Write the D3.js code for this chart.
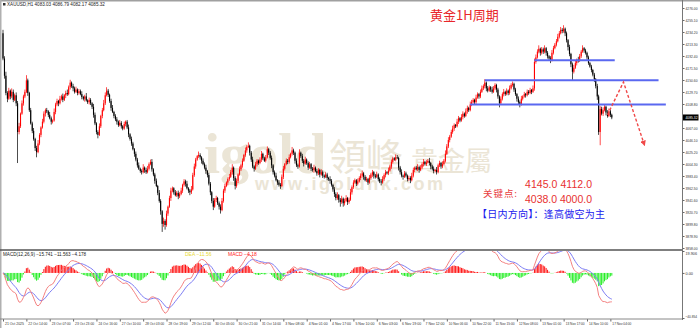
<!DOCTYPE html>
<html><head><meta charset="utf-8">
<script src="https://cdn.jsdelivr.net/npm/d3@7/dist/d3.min.js"></script>
<style>html,body{margin:0;padding:0;background:#fff;overflow:hidden}svg{display:block}</style>
</head><body><svg id="c" width="700" height="328"></svg>
<script>
// ---------- DATA ----------
const firstOpen = 4232;
const closes = [
4188,4158,4128,4118,4132,4122,4130,4116,4124,4110,
4060,4070,4092,4110,4122,4130,4150,4128,4098,4075,
4062,4048,4032,4025,4040,4055,4068,4078,4092,4098,
4096,4090,4084,4078,4080,4095,4108,4114,4110,4118,
4122,4116,4124,4128,4126,4138,4146,4140,4136,4130,
4134,4128,4131,4126,4121,4118,4122,4115,4112,4116,
4110,4104,4090,4075,4060,4055,4070,4088,4098,4110,
4124,4132,4125,4114,4102,4095,4088,4082,4078,4072,
4076,4070,4066,4074,4078,4068,4056,4048,4040,4030,
4022,4012,4002,3996,3992,3990,3998,3994,3990,3996,
4004,4008,3995,3986,3975,3966,3954,3940,3922,3900,
3905,3898,3918,3930,3945,3958,3962,3955,3950,3954,
3948,3952,3958,3968,3974,3970,3962,3958,3955,3960,
3985,4000,4012,4018,4020,4016,4010,4004,3998,3992,
3985,3970,3955,3940,3930,3942,3945,3936,3930,3924,
3940,3958,3966,3972,3978,3982,3990,3998,3980,3966,
3975,3986,3995,4002,4010,4020,4028,4034,4036,4024,
4012,4000,3996,4004,4010,4006,4012,4022,4014,4010,
4016,4030,4024,4015,4002,3990,3984,3976,3972,3968,
3966,3982,3996,4004,4010,4008,4016,4022,4028,4024,
4010,4002,4000,4024,4018,4010,4005,4012,4006,3998,
4004,3996,3994,3998,3992,3988,3994,3986,3990,3984,
3982,3986,3980,3978,3975,3968,3960,3952,3945,3950,
3942,3938,3944,3936,3940,3945,3938,3942,3955,3964,
3972,3976,3970,3974,3980,3984,3988,3982,3976,3978,
3972,3980,3986,3990,3984,3982,3986,3978,3974,3972,
3978,3985,3990,3988,3993,4000,4008,4014,4012,4016,
4015,3998,3990,3984,3982,3988,3984,3978,3980,3976,
3984,3994,3998,3995,3999,3994,3998,4004,4008,4004,
4007,4010,4006,4000,3996,3992,3994,3990,4002,4006,
4000,4004,4010,4022,4035,4046,4052,4060,4066,4072,
4070,4078,4084,4080,4086,4092,4088,4096,4102,4098,
4108,4112,4116,4112,4120,4126,4122,4130,4136,4140,
4146,4136,4132,4138,4134,4130,4136,4142,4134,4122,
4110,4118,4126,4130,4126,4132,4128,4136,4142,4144,
4134,4126,4118,4112,4108,4118,4122,4126,4124,4130,
4128,4133,4130,4136,4182,4190,4200,4205,4198,4204,
4200,4206,4198,4192,4188,4185,4198,4206,4212,4218,
4226,4232,4238,4236,4240,4232,4220,4208,4196,4178,
4165,4172,4180,4186,4184,4192,4200,4206,4202,4198,
4190,4180,4174,4168,4160,4152,4140,4122,4060,4100,
4092,4098,4104,4094,4088,4096,4090,4085.32
];
const wickUp = [
6,4,7,3,5,2,6,4,3,5, 4,6,2,5,3,4,9,3,2,4, 3,5,2,4,6,3,2,5,4,3, 4,2,5,3,2,6,3,4,2,5,
3,5,2,4,6,3,5,2,4,3, 5,2,4,3,5,2,3,6,2,4, 3,2,5,4,2,3,5,2,4,6, 5,6,3,2,4,5,2,3,4,2,
5,3,2,4,2,3,5,2,4,3, 2,4,3,5,2,3,6,2,4,5, 3,4,5,2,3,4,2,5,3,2, 6,3,5,2,4,5,3,2,4,3,
4,3,5,2,4,3,5,2,3,6, 4,5,3,2,6,3,2,4,3,5, 2,4,3,2,5,3,4,2,3,4, 5,3,4,2,3,5,4,6,2,3,
4,2,5,3,4,2,5,3,6,2, 3,5,2,4,3,2,4,5,2,3, 4,5,2,3,4,2,3,5,2,4, 3,4,5,2,4,3,5,2,6,3,
2,4,3,6,2,4,3,5,2,3, 4,2,3,5,2,4,3,2,5,3, 2,4,3,2,5,3,2,4,3,5, 2,3,5,2,4,5,2,4,6,3,
4,3,2,5,3,4,5,2,3,4, 2,5,3,4,2,3,5,2,3,4, 5,3,4,2,5,3,4,3,2,5, 4,2,3,5,2,4,3,2,4,3,
5,4,2,3,5,2,4,3,5,2, 4,3,5,2,3,4,2,5,3,4, 2,5,3,6,4,5,3,4,5,3, 2,5,4,2,5,4,2,5,4,2,
5,4,3,2,5,3,2,4,5,3, 6,2,4,3,2,5,4,3,2,3, 2,4,3,5,2,4,2,5,3,4, 2,3,2,4,3,5,2,4,2,4,
3,4,2,5,6,5,4,6,2,4, 3,5,2,3,2,4,5,4,3,4, 5,4,5,3,6,2,3,2,4,2, 3,5,4,2,5,4,3,5,2,3,
2,3,2,3,2,3,2,4,3,5, 4,5,3,2,4,5,3,2
];
const wickDn = [
3,5,4,6,2,5,3,4,2,5, 54,4,3,2,4,3,2,5,3,2, 4,3,5,9,2,3,4,2,3,5, 3,4,2,5,3,2,4,3,5,2,
3,4,2,5,3,2,4,3,5,3, 2,4,3,2,4,3,5,2,3,4, 3,4,5,3,4,6,2,3,4,2, 3,2,4,3,5,2,4,3,5,3,
2,4,3,2,4,3,5,3,4,2, 5,3,4,2,3,4,2,5,3,2, 3,2,4,3,5,2,4,3,6,14, 5,8,3,4,2,5,3,4,2,3,
5,3,2,4,3,5,2,4,5,3, 2,3,4,2,3,4,5,2,3,5, 4,3,5,4,6,2,4,3,5,6, 2,3,4,2,5,3,2,4,5,6,
3,4,2,3,4,2,3,4,2,5, 4,3,5,2,4,3,2,4,3,2, 3,2,4,3,5,4,3,2,4,3, 5,2,4,3,2,4,3,2,3,4,
5,3,4,2,3,4,5,2,3,4, 2,4,3,5,2,4,3,5,2,4, 3,2,4,3,5,3,4,5,4,3, 5,8,3,6,4,2,5,3,2,4,
3,2,4,3,2,4,3,5,2,3, 4,2,3,4,5,3,2,4,3,5, 2,3,4,2,3,2,4,3,2,3, 2,5,4,3,5,2,3,4,3,5,
2,3,4,2,3,5,2,3,4,2, 3,2,4,5,3,4,2,4,2,3, 4,3,2,3,2,3,4,2,3,4, 3,2,4,3,2,4,3,2,4,3,
2,3,2,4,3,2,4,3,2,3, 4,5,3,2,4,3,2,3,5,4, 7,2,3,4,3,2,4,3,2,3, 4,3,5,4,5,2,3,2,4,2,
3,2,4,2,4,3,2,3,5,3, 4,3,5,4,3,5,2,3,2,3, 2,3,2,4,3,5,4,6,4,5, 15,3,2,4,3,2,3,2,4,3,
4,3,2,4,3,5,4,6,5,23, 3,4,2,5,3,2,4,3
];
const priceTicks = [3858.00,3878.90,3899.80,3920.70,3941.60,3962.50,3983.40,4004.30,4025.20,4046.10,
  4067.00,4087.90,4108.80,4129.70,4150.60,4171.50,4192.40,4213.30,4234.20,4255.10,4276.00];
const timeLabels = ["21 Oct 2025","22 Oct 14:00","23 Oct 07:00","23 Oct 23:00","24 Oct 16:00","27 Oct 10:00",
  "28 Oct 03:00","28 Oct 19:00","29 Oct 12:00","30 Oct 05:00","30 Oct 21:00","31 Oct 14:00","3 Nov 08:00",
  "4 Nov 01:00","4 Nov 17:00","5 Nov 10:00","6 Nov 03:00","6 Nov 19:00","7 Nov 12:00","10 Nov 06:00",
  "10 Nov 22:00","11 Nov 15:00","12 Nov 08:00","13 Nov 01:00","13 Nov 17:00","14 Nov 10:00","17 Nov 04:00"];
const timeLabelBars = timeLabels.map((d,k)=>k*16);
const macdTicks = [19.906, 0, -40.854];
const macdReadout = [-15.741, -11.563, -4.178];   // DIF, DEA, MACD shown in the header
const levelLines = [ {price:4185, from:364, to:419}, {price:4150, from:330, to:449}, {price:4108, from:320, to:454} ];
const projection = [ {bar:414, price:4090}, {bar:425, price:4147}, {bar:439, price:4040} ];
const keyPoints = ["4145.0 4112.0", "4038.0 4000.0"];

// ---------- SCALES ----------
const svg = d3.select("#c");
const xS = d3.scaleLinear().domain([0,465]).range([3,681.9]);
const yP = d3.scaleLinear().domain([3858,4276]).range([248,8]);
const yM = d3.scaleLinear().domain([-40.854,19.906]).range([318,251]);
const tinyFont = "Liberation Sans, Arial, sans-serif";

const defs = svg.append("defs");
defs.append("clipPath").attr("id","cm").append("rect").attr("x",2).attr("y",2).attr("width",680).attr("height",247);
defs.append("clipPath").attr("id","cd").append("rect").attr("x",2).attr("y",251).attr("width",680).attr("height",67);
defs.append("marker").attr("id","arr").attr("viewBox","0 0 6 6").attr("refX",3).attr("refY",3)
  .attr("markerWidth",4).attr("markerHeight",4).attr("orient","auto")
  .append("path").attr("d","M0,0L6,3L0,6Z").attr("fill","#f04848");

// frame
svg.append("rect").attr("x",0).attr("y",0).attr("width",700).attr("height",1.5).attr("fill","#a0a0a0");
svg.append("rect").attr("x",0).attr("y",0).attr("width",1.5).attr("height",328).attr("fill","#b0b0b0");

// watermark
const wm = svg.append("g").attr("fill","#ebe5d6");
wm.append("text").attr("x",204).attr("y",173).attr("font-family","Liberation Serif, serif").attr("font-weight","bold")
  .attr("font-size",58).text("igold");
wm.append("text").attr("x",329).attr("y",171).attr("font-family","Noto Sans CJK TC").attr("font-size",37).text("領峰");
wm.append("text").attr("x",411).attr("y",171).attr("font-family","Noto Sans CJK TC").attr("font-size",27).text("貴金屬");
wm.append("text").attr("x",255).attr("y",190).attr("font-family","Liberation Sans, sans-serif").attr("font-weight","bold")
  .attr("font-size",18).attr("textLength",188).attr("lengthAdjust","spacing").text("www.igoldhk.com");

// candles
const bars = closes.map((c,i)=>{
  const o = i===0 ? firstOpen : closes[i-1];
  return {i, o, c, h: Math.max(o,c)+wickUp[i], l: Math.min(o,c)-wickDn[i]};
});
const cg = svg.append("g").attr("clip-path","url(#cm)");
cg.selectAll(".wk").data(bars).join("rect")
  .attr("x",d=>xS(d.i)-0.35).attr("width",0.7)
  .attr("y",d=>yP(d.h)).attr("height",d=>Math.max(0.5,yP(d.l)-yP(d.h)))
  .attr("fill",d=>d.c>=d.o?"#ff0000":"#000");
cg.selectAll(".bd").data(bars).join("rect")
  .attr("x",d=>xS(d.i)-0.55).attr("width",1.1)
  .attr("y",d=>yP(Math.max(d.o,d.c))).attr("height",d=>Math.max(0.6,Math.abs(yP(d.o)-yP(d.c))))
  .attr("fill",d=>d.c>=d.o?"#ff0000":"#000");

// level lines
cg.selectAll(".lv").data(levelLines).join("line")
  .attr("x1",d=>xS(d.from)).attr("x2",d=>xS(d.to)).attr("y1",d=>yP(d.price)).attr("y2",d=>yP(d.price))
  .attr("stroke","#5a68f0").attr("stroke-width",2);
// projection
cg.append("path").datum(projection)
  .attr("d",d3.line().x(d=>xS(d.bar)).y(d=>yP(d.price)))
  .attr("fill","none").attr("stroke","#f04848").attr("stroke-width",1.4).attr("stroke-dasharray","3,2")
  .attr("marker-end","url(#arr)");

// title & notes
svg.append("text").attr("x",430).attr("y",20).attr("font-family","Noto Sans CJK SC").attr("font-size",13)
  .attr("fill","#e8262a").text("黄金1H周期");
svg.append("text").attr("x",483).attr("y",197).attr("font-family","Noto Sans CJK SC").attr("font-size",9.5)
  .attr("fill","#e84040").attr("textLength",34).text("关键点:");
svg.selectAll(".kp").data(keyPoints).join("text")
  .attr("x",525).attr("y",(d,k)=>188+k*15).attr("font-family","Liberation Sans, sans-serif").attr("font-size",10.5)
  .attr("fill","#e83030").attr("textLength",67).attr("lengthAdjust","spacing").text(d=>d);
svg.append("text").attr("x",477).attr("y",217.5).attr("font-family","Noto Sans CJK SC").attr("font-size",10)
  .attr("fill","#1a1aee").attr("textLength",128).attr("lengthAdjust","spacing").text("【日内方向】：逢高做空为主");

// header
svg.append("rect").attr("x",3).attr("y",3).attr("width",2.5).attr("height",2.5).attr("fill","#333");
svg.append("text").attr("x",7).attr("y",6.3).attr("font-family",tinyFont).attr("font-size",4.6)
  .attr("fill","#222").text("XAUUSD,H1  4083.03 4086.79 4082.17 4085.32");

// price axis
const pa = svg.append("g").attr("transform","translate(682,0)")
  .call(d3.axisRight(yP).tickValues(priceTicks).tickSize(2.5).tickSizeOuter(0).tickFormat(d3.format(".2f")));
pa.select(".domain").remove();
pa.selectAll("text").attr("font-size",4.2).attr("font-family",tinyFont).attr("fill","#333").attr("x",3.5)
  .attr("textLength",12).attr("lengthAdjust","spacingAndGlyphs");
pa.selectAll("line").attr("stroke","#666");
svg.append("line").attr("x1",682.5).attr("x2",682.5).attr("y1",0).attr("y2",320).attr("stroke","#777").attr("stroke-width",1);
// current price box
const last = closes[closes.length-1];
svg.append("rect").attr("x",683).attr("y",yP(last)-3).attr("width",15.5).attr("height",6).attr("fill","#000");
svg.append("text").attr("x",685.5).attr("y",yP(last)+1.6).attr("font-size",4.2).attr("font-family",tinyFont)
  .attr("fill","#fff").attr("textLength",12).attr("lengthAdjust","spacingAndGlyphs").text(d3.format(".2f")(last));

// MACD
function ema(arr,n){const k=2/(n+1);let e=arr[0];return arr.map((v,i)=>(e=i===0?v:v*k+e*(1-k)));}
const e12 = ema(closes,12), e26 = ema(closes,26);
const dif = e12.map((v,i)=>v-e26[i]);
const dea = ema(dif,9);
const hist = dif.map((v,i)=>v-dea[i]);
svg.append("line").attr("x1",0).attr("x2",682).attr("y1",250).attr("y2",250).attr("stroke","#555").attr("stroke-width",1.5);
const mg = svg.append("g").attr("clip-path","url(#cd)");
mg.selectAll(".hb").data(hist).join("rect")
  .attr("x",(d,i)=>xS(i)-0.5).attr("width",1)
  .attr("y",d=>Math.min(yM(0),yM(d))).attr("height",d=>Math.abs(yM(d)-yM(0)))
  .attr("fill",d=>d>=0?"#ff1010":"#22ee22");
mg.append("path").datum(dea).attr("d",d3.line().x((d,i)=>xS(i)).y(d=>yM(d)))
  .attr("fill","none").attr("stroke","#7c7cf4").attr("stroke-width",1);
mg.append("path").datum(dif).attr("d",d3.line().x((d,i)=>xS(i)).y(d=>yM(d)))
  .attr("fill","none").attr("stroke","#f48080").attr("stroke-width",1);
const fmt3 = d3.format(".3f"), fmt2 = d3.format(".2f");
svg.append("text").attr("x",3).attr("y",255.5).attr("font-size",4.6).attr("font-family",tinyFont).attr("fill","#222")
  .text("MACD(12,26,9) "+macdReadout.map(fmt3).join(" "));
svg.append("text").attr("x",185).attr("y",255.5).attr("font-size",5).attr("font-family",tinyFont).attr("fill","#e8d830")
  .text("DEA      "+fmt2(macdReadout[1]));
svg.append("text").attr("x",228).attr("y",255.5).attr("font-size",5).attr("font-family",tinyFont).attr("fill","#ff2020")
  .text("MACD      "+fmt2(macdReadout[2]));
const ma = svg.append("g").attr("transform","translate(682,0)")
  .call(d3.axisRight(yM).tickValues(macdTicks).tickSize(2.5).tickSizeOuter(0).tickFormat(d=>d===0?"0.00":fmt3(d)));
ma.select(".domain").remove();
ma.selectAll("text").attr("font-size",4.2).attr("font-family",tinyFont).attr("fill","#333").attr("x",3.5)
  .attr("textLength",d=>d===0?7.5:11.5).attr("lengthAdjust","spacingAndGlyphs");
ma.selectAll(".tick").filter(d=>d===macdTicks[0]).select("text").attr("dy","0.9em");
ma.selectAll(".tick").filter(d=>d===macdTicks[2]).select("text").attr("dy","-0.1em");
ma.selectAll("line").attr("stroke","#666");

// time axis
const ta = svg.append("g").attr("transform","translate(0,319)")
  .call(d3.axisBottom(xS).tickValues(timeLabelBars).tickSize(2.5).tickSizeOuter(0).tickFormat((d,k)=>timeLabels[k]));
ta.select(".domain").remove();
ta.selectAll("text").attr("font-size",4.2).attr("font-family",tinyFont).attr("fill","#333")
  .attr("text-anchor","start").attr("dx",1.5).attr("y",3).attr("textLength",19).attr("lengthAdjust","spacingAndGlyphs");
ta.selectAll("line").attr("stroke","#666");
svg.append("line").attr("x1",0).attr("x2",682).attr("y1",319).attr("y2",319).attr("stroke","#888");
</script></body></html>
